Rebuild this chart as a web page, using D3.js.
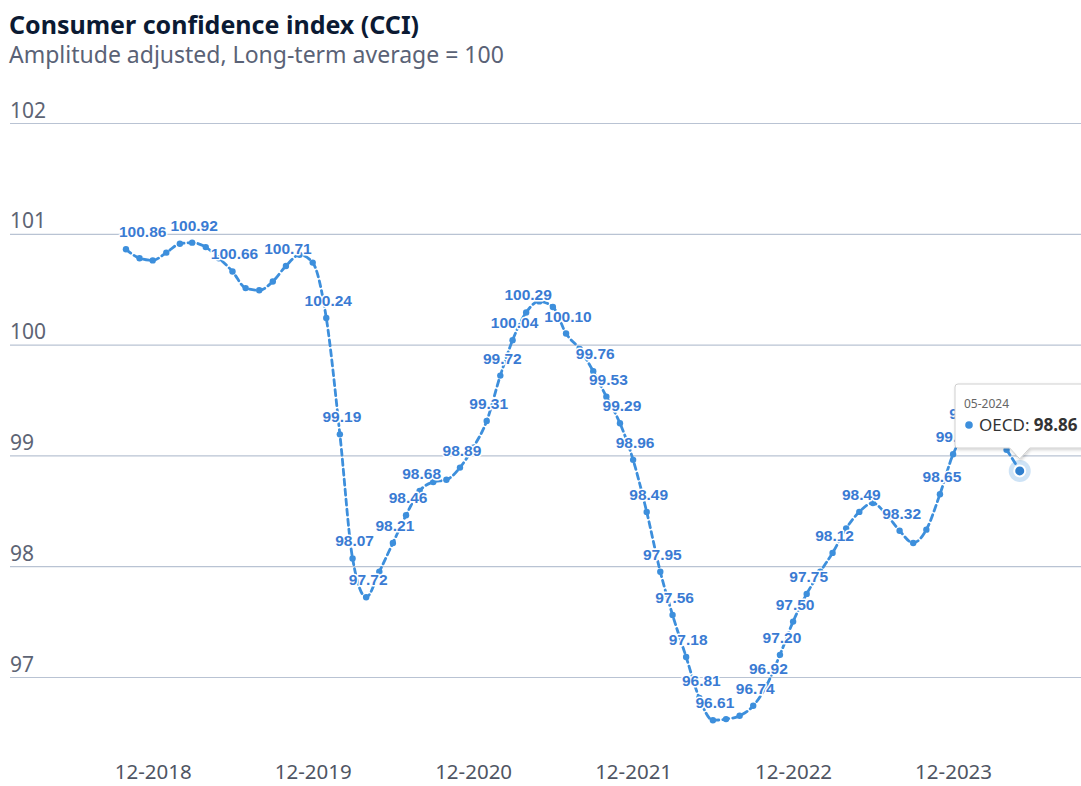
<!DOCTYPE html>
<html><head><meta charset="utf-8">
<script src="https://cdn.jsdelivr.net/npm/d3@7"></script>
<style>body{margin:0;background:#fff;} svg{display:block;}</style>
</head><body>
<script>
// ---- data ----
const title = "Consumer confidence index (CCI)";
const subtitle = "Amplitude adjusted, Long-term average = 100";
const seriesName = "OECD";
const startMonth = "2018-10";
const endMonth = "2024-05";
const values = [
  100.86, 100.78, 100.76, 100.83, 100.91, 100.92, 100.88, 100.78, 100.66, 100.51,
  100.49, 100.57, 100.71, 100.81, 100.74, 100.24, 99.19, 98.07, 97.72, 97.95,
  98.21, 98.46, 98.68, 98.76, 98.78, 98.89, 99.07, 99.31, 99.72, 100.04,
  100.29, 100.39, 100.34, 100.10, 99.96, 99.76, 99.53, 99.29, 98.96, 98.49,
  97.95, 97.56, 97.18, 96.81, 96.61, 96.62, 96.65, 96.74, 96.92, 97.20,
  97.50, 97.75, 97.95, 98.12, 98.34, 98.49, 98.57, 98.47, 98.32, 98.21,
  98.33, 98.65, 99.01, 99.22, 99.28, 99.20, 99.05, 98.86
];
const labeledIdx = [0,5,8,12,15,16,17,18,20,21,22,25,27,28,29,30,33,35,36,37,38,39,40,41,42,43,44,47,48,49,50,51,53,55,58,61,62,63];
const yTicks = [97, 98, 99, 100, 101, 102];
const xTicks = ["2018-12","2019-12","2020-12","2021-12","2022-12","2023-12"];
const tooltipMonth = "2024-05";

// ---- setup ----
const W = 1081, H = 786;
const parse = d3.timeParse("%Y-%m");
const months = d3.timeMonth.range(parse(startMonth), d3.timeMonth.offset(parse(endMonth), 1));
const data = months.map((d, i) => ({date: d, value: values[i], i}));

const x = d3.scaleTime().domain([parse("2018-12"), parse("2023-12")]).range([152.7, 953.1]);
const y = d3.scaleLinear().domain([97, 102]).range([677, 123]);

const svg = d3.select("body").append("svg").attr("width", W).attr("height", H)
  .style("font-family", "'Noto Sans', 'Open Sans', sans-serif");

const defs = svg.append("defs");
const f = defs.append("filter").attr("id", "shadow").attr("x", "-20%").attr("y", "-20%").attr("width", "140%").attr("height", "160%");
f.append("feDropShadow").attr("dx", 1).attr("dy", 1.5).attr("stdDeviation", 1.6).attr("flood-color", "#000").attr("flood-opacity", 0.18);

// titles
svg.append("text").attr("x", 9).attr("y", 34).text(title)
  .attr("font-weight", 700).attr("font-size", 25).attr("fill", "#0b1a33");
svg.append("text").attr("x", 9).attr("y", 63).text(subtitle)
  .attr("font-size", 23).attr("fill", "#5a6276");

// y axis with gridlines
const yAxis = svg.append("g").attr("transform", "translate(10,0)")
  .call(d3.axisLeft(y).tickValues(yTicks).tickSize(-(W - 10)).tickFormat(d3.format("d")));
yAxis.select(".domain").remove();
yAxis.selectAll(".tick line").attr("stroke", "#b9c3d3").attr("stroke-width", 1.2);
yAxis.selectAll(".tick text").attr("x", 0).attr("y", -6).attr("dy", 0)
  .attr("text-anchor", "start").attr("font-size", 21).attr("fill", "#5d6474")
  .style("font-family", "'Noto Sans', sans-serif");

// x axis
const xAxis = svg.append("g").attr("transform", "translate(0,762)")
  .call(d3.axisBottom(x).tickValues(xTicks.map(parse)).tickSize(0).tickFormat(d3.timeFormat("%m-%Y")));
xAxis.select(".domain").remove();
xAxis.selectAll(".tick text").attr("y", 0).attr("dy", "0.85em").attr("font-size", 20.5).attr("fill", "#4f5563")
  .style("font-family", "'Noto Sans', sans-serif");

// line
const lineColor = "#3d8fdc";
const line = d3.line().x(d => x(d.date)).y(d => y(d.value)).curve(d3.curveMonotoneX);
svg.append("path").datum(data).attr("d", line)
  .attr("fill", "none").attr("stroke", lineColor).attr("stroke-width", 2.8)
  .attr("stroke-dasharray", "6,4").attr("stroke-linecap", "round");

svg.append("g").selectAll("circle").data(data).join("circle")
  .attr("cx", d => x(d.date)).attr("cy", d => y(d.value)).attr("r", 3.2)
  .attr("fill", lineColor);

// data labels
const lbl = svg.append("g").selectAll("text").data(data.filter(d => labeledIdx.includes(d.i))).join("text")
  .attr("x", d => x(d.date) + 2).attr("y", d => y(d.value) - 12)
  .attr("text-anchor", "middle")
  .style("font-family", "'Liberation Sans', Arial, sans-serif")
  .attr("font-weight", 700).attr("font-size", 15.5)
  .attr("fill", "#3a7bd3").attr("stroke", "#fff").attr("stroke-width", 3)
  .attr("stroke-linejoin", "round").attr("paint-order", "stroke")
  .text(d => d3.format(".2f")(d.value));
lbl.each(function(d) {
  const w = this.getComputedTextLength();
  const cx = +d3.select(this).attr("x");
  if (cx - w / 2 < 119) d3.select(this).attr("x", 119 + w / 2);
});

// tooltip
const tp = data.find(d => +d.date === +parse(tooltipMonth));
const px = x(tp.date), py = y(tp.value);
svg.append("circle").attr("cx", px).attr("cy", py).attr("r", 11).attr("fill", lineColor).attr("opacity", 0.25);
svg.append("circle").attr("cx", px).attr("cy", py).attr("r", 5.5).attr("fill", "#2f7fce")
  .attr("stroke", "#fff").attr("stroke-width", 2);

const bx = 955, by = 384, bw = 140, bh = 64;
const tipY = py - 12;
const tg = svg.append("g");
tg.append("path")
  .attr("d", `M${bx+3},${by} H${bx+bw} V${by+bh} H${px+10} L${px},${tipY} L${px-10},${by+bh} H${bx+3} Q${bx},${by+bh} ${bx},${by+bh-3} V${by+3} Q${bx},${by} ${bx+3},${by} Z`)
  .attr("fill", "#fff").attr("stroke", "#cfcfcf").attr("stroke-width", 1).attr("filter", "url(#shadow)");
tg.append("text").attr("x", bx + 9).attr("y", by + 24).text(d3.timeFormat("%m-%Y")(tp.date))
  .attr("font-size", 12).attr("fill", "#666");
tg.append("circle").attr("cx", bx + 14).attr("cy", by + 41).attr("r", 3.8).attr("fill", lineColor);
const t2 = tg.append("text").attr("x", bx + 24).attr("y", by + 47).attr("font-size", 17).attr("fill", "#333");
t2.append("tspan").text(seriesName + ": ");
t2.append("tspan").attr("font-weight", 700).text(d3.format(".2f")(tp.value));
</script>
</body></html>
